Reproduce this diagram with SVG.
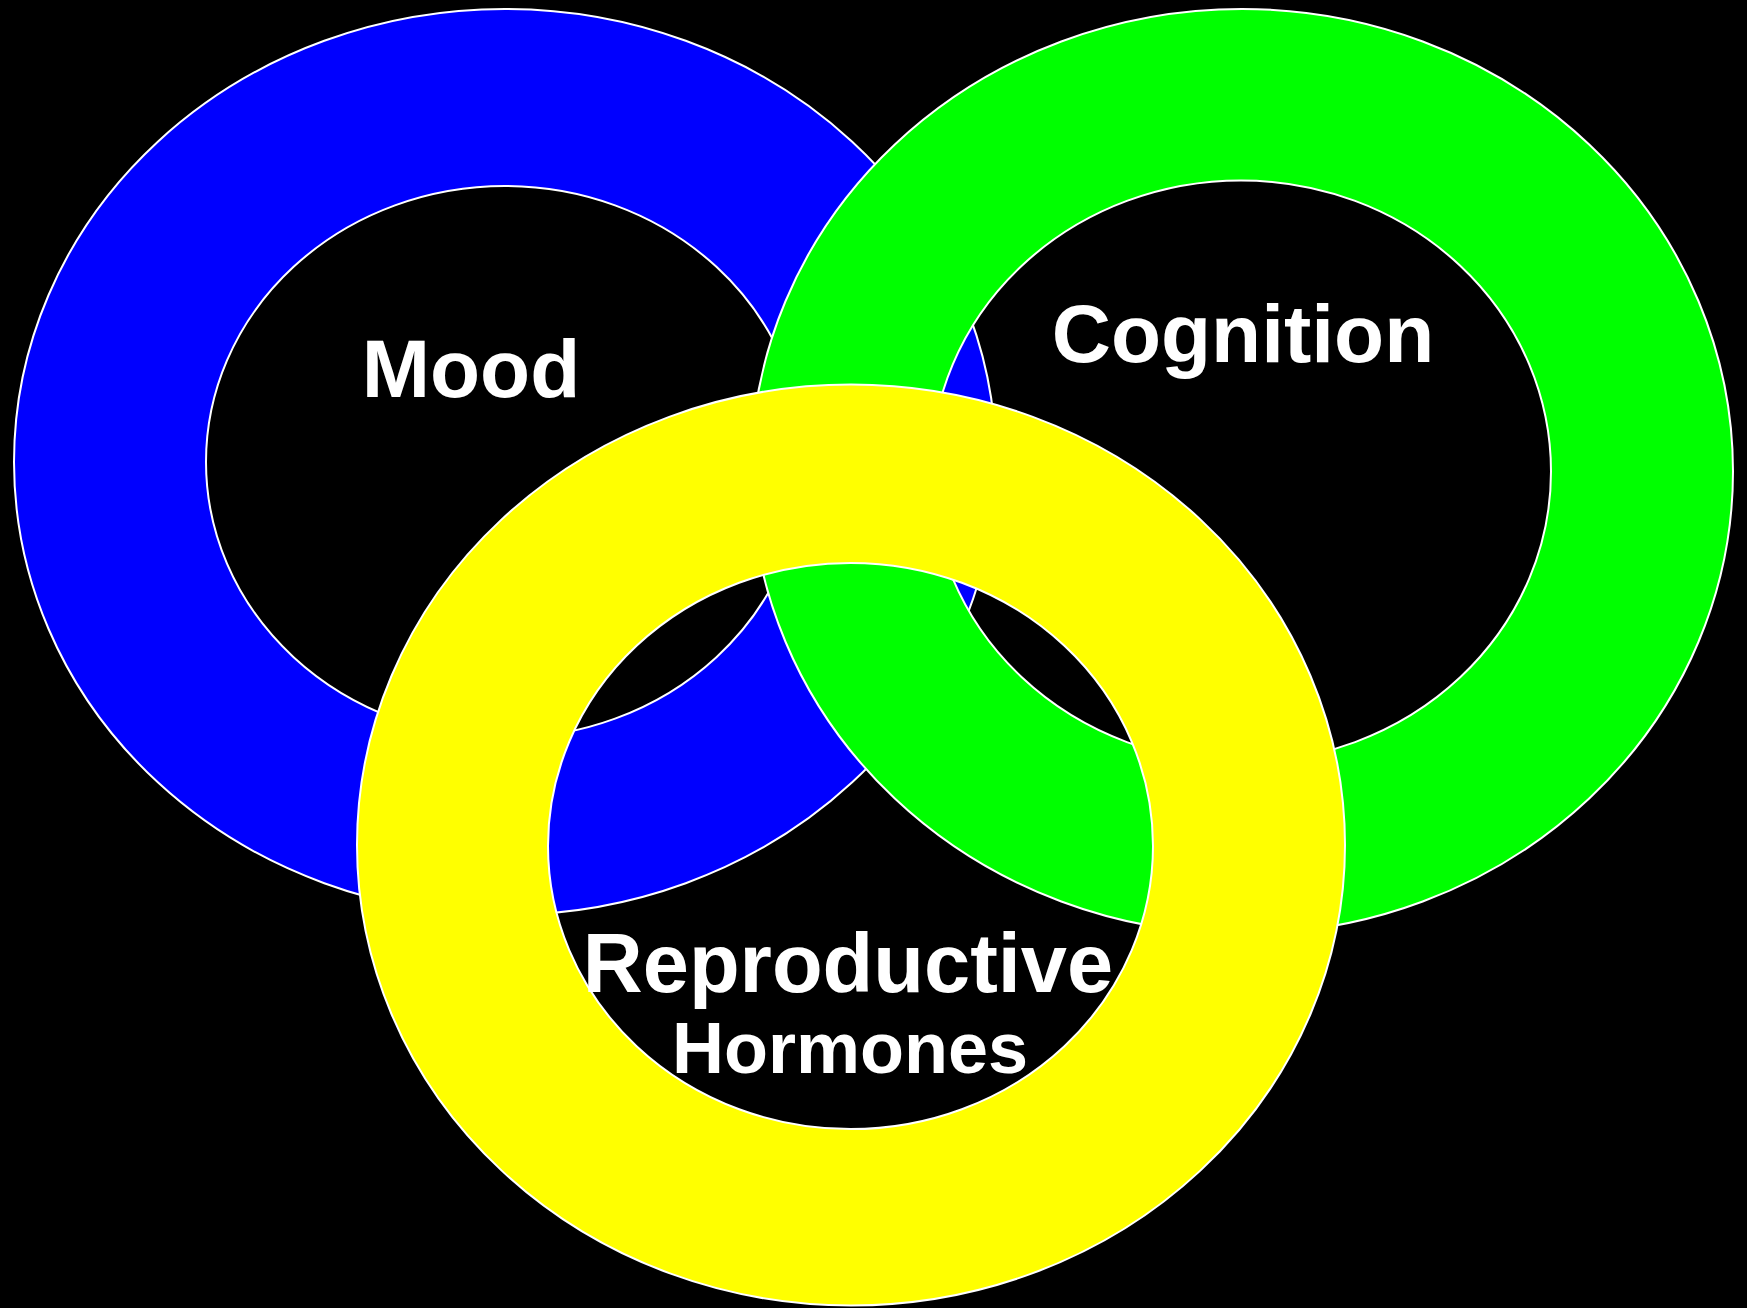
<svg xmlns="http://www.w3.org/2000/svg" width="1747" height="1308" viewBox="0 0 1747 1308">
  <style>
    .ring { fill-rule: evenodd; stroke: #ffffff; stroke-width: 2; }
    .label { font-family: "Liberation Sans", Arial, sans-serif; font-weight: bold; fill: #ffffff; text-anchor: middle; }
  </style>
  <rect x="0" y="0" width="1747" height="1308" fill="#000000"/>
  <g id="mood">
    <path class="ring" fill="#0000ff" d="M 14 462 A 491 453 0 1 0 996 462 A 491 453 0 1 0 14 462 Z M 206 462 A 299 276 0 1 1 804 462 A 299 276 0 1 1 206 462 Z"/>
    <text class="label" x="471" y="397" font-size="82">Mood</text>
  </g>
  <g id="cognition">
    <path class="ring" fill="#00ff00" d="M 751 471.5 A 491 462.5 0 1 0 1733 471.5 A 491 462.5 0 1 0 751 471.5 Z M 931 471.5 A 310 291 0 1 1 1551 471.5 A 310 291 0 1 1 931 471.5 Z"/>
    <text class="label" x="1243" y="362" font-size="82">Cognition</text>
  </g>
  <g id="reproductive-hormones">
    <path class="ring" fill="#ffff00" d="M 357 845 A 494 460.5 0 1 0 1345 845 A 494 460.5 0 1 0 357 845 Z M 548 846 A 302.5 283 0 1 1 1153 846 A 302.5 283 0 1 1 548 846 Z"/>
    <text class="label" x="848" y="992" font-size="83">Reproductive</text>
    <text class="label" x="850" y="1073" font-size="72">Hormones</text>
  </g>
  <g id="connectors"></g>
</svg>
